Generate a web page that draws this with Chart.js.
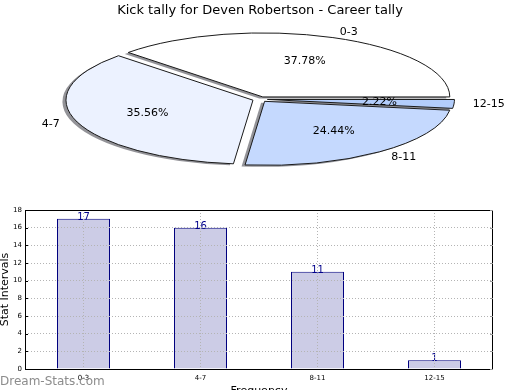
<!DOCTYPE html>
<html><head><meta charset="utf-8">
<script src="https://cdn.jsdelivr.net/npm/chart.js@4.4.1/dist/chart.umd.min.js"></script>
<style>
html,body{margin:0;padding:0;background:#fff;overflow:hidden;width:520px;height:390px}
canvas{position:absolute;left:0}
#pie{top:0}
#bar{top:200px}
</style></head><body>
<canvas id="pie" width="520" height="200"></canvas>
<canvas id="bar" width="520" height="200"></canvas>
<script>
// ---- data ----
const chartTitle = 'Kick tally for Deven Robertson - Career tally';
const categories = ['0-3', '4-7', '8-11', '12-15'];
const counts = [17, 16, 11, 1];
const yTicks = [0, 2, 4, 6, 8, 10, 12, 14, 16, 18];
const pieColors = ['#ffffff', '#ecf2ff', '#c5d9fe', '#b3cdfb'];

Chart.defaults.font.family = 'DejaVu Sans';
Chart.defaults.color = '#000';

// ---- pie (elliptical, exploded, shadowed) ----
const RX = 187, RY = 64, EXPLODE = 0.04;
function arcGeom(arc) {
  const p = arc.getProps(['x', 'y', 'outerRadius', 'startAngle', 'endAngle']);
  const m = (p.startAngle + p.endAngle) / 2;
  const ax = p.x + EXPLODE * RX * Math.cos(m);
  const ay = p.y - EXPLODE * RY * Math.sin(m);
  return {p, m, ax, ay};
}
const pieEllipse = {
  id: 'pieEllipse',
  beforeDatasetsDraw(chart) {
    const ctx = chart.ctx;
    const dpr = chart.currentDevicePixelRatio || 1;
    const meta = chart.getDatasetMeta(0);
    meta.data.forEach(arc => {
      const {p, ax, ay} = arcGeom(arc);
      ctx.save();
      ctx.translate(ax, ay);
      ctx.scale(RX / p.outerRadius, -RY / p.outerRadius);
      ctx.translate(-p.x, -p.y);
      ctx.shadowColor = 'rgba(40,40,50,0.5)';
      ctx.shadowOffsetX = -3.5;
      ctx.shadowOffsetY = 1.5;
      ctx.shadowBlur = 0;
      const origStroke = CanvasRenderingContext2D.prototype.stroke;
      ctx.stroke = function () {
        this.save();
        this.setTransform(dpr, 0, 0, dpr, 0, 0);
        this.shadowColor = 'rgba(0,0,0,0)';
        origStroke.call(this);
        this.restore();
      };
      arc.draw(ctx);
      delete ctx.stroke;
      ctx.restore();
    });
    return false;
  },
  afterDraw(chart) {
    const ctx = chart.ctx;
    const meta = chart.getDatasetMeta(0);
    const vals = chart.data.datasets[0].data;
    const total = vals.reduce((a, b) => a + b, 0);
    ctx.save();
    ctx.fillStyle = '#000';
    ctx.font = '11px "DejaVu Sans"';
    ctx.textBaseline = 'middle';
    meta.data.forEach((arc, i) => {
      const {m, ax, ay} = arcGeom(arc);
      const c = Math.cos(m), s = Math.sin(m);
      const lx = ax + 1.1 * RX * c, ly = ay - 1.1 * RY * s;
      ctx.textAlign = c > 0 ? 'left' : 'right';
      ctx.fillText(chart.data.labels[i], lx, ly);
      const px = ax + 0.6 * RX * c, py = ay - 0.6 * RY * s;
      ctx.textAlign = 'center';
      ctx.fillText((vals[i] / total * 100).toFixed(2) + '%', px, py);
    });
    ctx.restore();
  }
};

new Chart(document.getElementById('pie'), {
  type: 'pie',
  data: {
    labels: categories,
    datasets: [{
      data: counts,
      backgroundColor: pieColors,
      borderColor: '#1a1a1a',
      borderWidth: 1
    }]
  },
  options: {
    responsive: false,
    animation: false,
    rotation: 90,
    layout: {padding: {top: 0, bottom: 20, left: 0, right: 0}},
    plugins: {
      legend: {display: false},
      tooltip: {enabled: false},
      title: {
        display: true, text: chartTitle, color: '#000',
        font: {size: 13, weight: 'normal'},
        padding: {top: 3, bottom: 0}
      }
    }
  },
  plugins: [pieEllipse]
});

// ---- bar ----
const barExtras = {
  id: 'barExtras',
  afterDatasetsDraw(chart) {
    const ctx = chart.ctx;
    const meta = chart.getDatasetMeta(0);
    ctx.save();
    ctx.fillStyle = '#00008b';
    ctx.font = '10px "DejaVu Sans"';
    ctx.textAlign = 'center';
    ctx.textBaseline = 'alphabetic';
    meta.data.forEach((bar, i) => {
      ctx.fillText(String(chart.data.datasets[0].data[i]), bar.x, bar.y + 1);
    });
    ctx.restore();
  },
  afterDraw(chart) {
    const ctx = chart.ctx;
    const a = chart.chartArea;
    ctx.save();
    ctx.strokeStyle = '#000';
    ctx.lineWidth = 1;
    ctx.strokeRect(Math.round(a.left) + 0.5, Math.round(a.top) + 0.5,
      Math.round(a.right - a.left) - 1, Math.round(a.bottom - a.top));
    // inward tick marks
    const ys = chart.scales.y;
    yTicks.forEach(v => {
      const y = Math.round(ys.getPixelForValue(v)) + 0.5;
      ctx.strokeStyle = '#000';
      ctx.beginPath();
      ctx.moveTo(a.left, y); ctx.lineTo(a.left + 3, y);
      ctx.stroke();
      ctx.strokeStyle = '#999';
      ctx.beginPath();
      ctx.moveTo(a.right, y); ctx.lineTo(a.right - 3, y);
      ctx.stroke();
    });
    ctx.fillStyle = '#8c8c8c';
    ctx.font = '12px "DejaVu Sans"';
    ctx.textAlign = 'left';
    ctx.textBaseline = 'alphabetic';
    ctx.fillText('Dream-Stats.com', 0, 184.5);
    ctx.restore();
  }
};

new Chart(document.getElementById('bar'), {
  type: 'bar',
  data: {
    labels: categories,
    datasets: [{
      data: counts,
      backgroundColor: '#ccccE6',
      borderColor: '#00007f',
      borderWidth: 1,
      barPercentage: 0.453,
      categoryPercentage: 1
    }]
  },
  options: {
    responsive: false,
    animation: false,
    layout: {padding: {top: 10, right: 27, left: 0, bottom: 0}},
    plugins: {legend: {display: false}, tooltip: {enabled: false}},
    scales: {
      x: {
        grid: {offset: false, color: '#b4b4b4', lineWidth: 1, drawTicks: false, z: 1},
        border: {display: false, dash: [1, 2]},
        ticks: {font: {size: 7}, padding: 5, color: '#000'},
        title: {display: true, text: 'Frequency', font: {size: 11}, color: '#000', padding: {top: 0, bottom: 2}},
        afterFit(s) { s.height = 31; }
      },
      y: {
        min: 0, max: 18,
        grid: {color: '#b4b4b4', lineWidth: 1, drawTicks: false, z: 1},
        border: {display: false, dash: [1, 2]},
        ticks: {font: {size: 7}, padding: 3, color: '#000'},
        afterBuildTicks(s) { s.ticks = yTicks.map(v => ({value: v})); },
        title: {display: true, text: 'Stat Intervals', font: {size: 11}, color: '#000', padding: {top: -1, bottom: 0}},
        afterFit(s) { s.width = 25; }
      }
    }
  },
  plugins: [barExtras]
});
</script>
</body></html>
